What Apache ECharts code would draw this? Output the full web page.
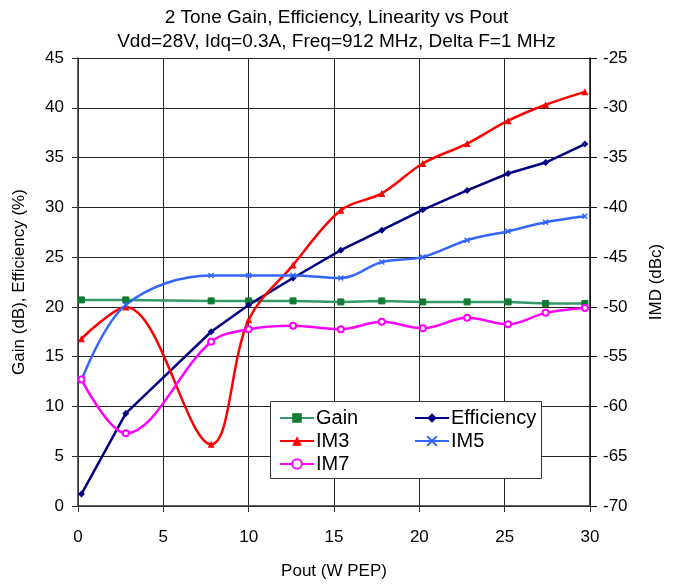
<!DOCTYPE html>
<html>
<head>
<meta charset="utf-8">
<script src="https://cdn.jsdelivr.net/npm/echarts@6/dist/echarts.min.js"></script>
<style>
  html, body { margin: 0; padding: 0; background: #fff; }
  #main { width: 673px; height: 585px; }
</style>
</head>
<body>
<div id="main"></div>
<script>
// Pout (W PEP)
let pout = [0.2, 2.8, 7.8, 10.0, 12.6, 15.4, 17.8, 20.2, 22.8, 25.2, 27.4, 29.7];
// left axis
let gain = [20.7, 20.7, 20.6, 20.6, 20.6, 20.5, 20.6, 20.5, 20.5, 20.5, 20.35, 20.35];
let efficiency = [1.2, 9.3, 17.5, 20.2, 22.9, 25.7, 27.7, 29.75, 31.7, 33.4, 34.5, 36.35];
// right axis (dBc)
let im3 = [-53.2, -50.0, -63.8, -51.3, -45.8, -40.3, -38.6, -35.6, -33.6, -31.3, -29.7, -28.4];
let im5 = [-57.4, -49.8, -46.85, -46.85, -46.85, -47.1, -45.5, -45.0, -43.3, -42.4, -41.5, -40.9];
let im7 = [-57.3, -62.7, -53.5, -52.25, -51.9, -52.25, -51.5, -52.15, -51.1, -51.75, -50.6, -50.1];

function pairs(ys) {
    return pout.map((x, i) => [x, ys[i]]);
}

let font = 'Liberation Sans, Arial, sans-serif';
let chart = echarts.init(document.getElementById('main'));

let option = {
    animation: false,
    backgroundColor: '#fff',
    textStyle: { fontFamily: font },
    title: {
        text: '2 Tone Gain, Efficiency, Linearity vs Pout\nVdd=28V, Idq=0.3A, Freq=912 MHz, Delta F=1 MHz',
        left: 'center',
        top: 1,
        textStyle: { fontFamily: font, fontSize: 19, fontWeight: 'normal', color: '#000', lineHeight: 24 }
    },
    grid: { left: 78, right: 83, top: 58, bottom: 75, containLabel: false },
    xAxis: {
        type: 'value',
        min: 0, max: 30, interval: 5,
        name: 'Pout (W PEP)',
        nameLocation: 'middle',
        nameGap: 57,
        nameTextStyle: { fontSize: 17, color: '#000' },
        axisLine: { show: true, lineStyle: { color: '#333', width: 1.5 } },
        axisTick: { show: true, length: 6, lineStyle: { color: '#333' } },
        axisLabel: { fontSize: 17, color: '#000', margin: 23 },
        splitLine: { show: true, lineStyle: { color: '#222', width: 1 } }
    },
    yAxis: [{
        type: 'value',
        min: 0, max: 45, interval: 5,
        position: 'left',
        name: 'Gain (dB), Efficiency (%)',
        nameLocation: 'middle',
        nameRotate: 90,
        nameGap: 50,
        nameTextStyle: { fontSize: 17, color: '#000' },
        axisLine: { show: true, lineStyle: { color: '#333', width: 1.5 } },
        axisTick: { show: true, length: 6, inside: false, lineStyle: { color: '#333' } },
        axisLabel: { fontSize: 17, color: '#000', margin: 14 },
        splitLine: { show: true, lineStyle: { color: '#222', width: 1 } }
    }, {
        type: 'value',
        min: -70, max: -25, interval: 5,
        position: 'right',
        name: 'IMD (dBc)',
        nameLocation: 'middle',
        nameRotate: 90,
        nameGap: 58,
        nameTextStyle: { fontSize: 17, color: '#000' },
        axisLine: { show: true, lineStyle: { color: '#111', width: 1.5 } },
        axisTick: { show: true, length: 7, lineStyle: { color: '#111' } },
        axisLabel: { fontSize: 17, color: '#000', margin: 13 },
        splitLine: { show: false }
    }],
    graphic: [{
        type: 'rect',
        z: 10,
        shape: { x: 270.5, y: 401.5, width: 271, height: 77 },
        style: { fill: '#fff', stroke: '#333', lineWidth: 1 }
    }],
    legend: [{
        data: ['Gain', 'IM3', 'IM7'],
        orient: 'vertical',
        left: 274, top: 403,
        z: 11,
        itemWidth: 34, itemHeight: 12, itemGap: 3,
        textStyle: { fontFamily: font, fontSize: 20, color: '#000', padding: [0, 0, 0, -3] }
    }, {
        data: ['Efficiency', 'IM5'],
        orient: 'vertical',
        left: 409, top: 403,
        z: 11,
        itemWidth: 34, itemHeight: 12, itemGap: 3,
        textStyle: { fontFamily: font, fontSize: 20, color: '#000', padding: [0, 0, 0, -3] }
    }],
    series: [{
        name: 'Gain',
        type: 'line',
        yAxisIndex: 0,
        data: pairs(gain),
        symbol: 'rect',
        symbolSize: 6,
        lineStyle: { color: '#339966', width: 2.5 },
        itemStyle: { color: '#117a33', borderColor: '#117a33' }
    }, {
        name: 'Efficiency',
        type: 'line',
        yAxisIndex: 0,
        data: pairs(efficiency),
        symbol: 'diamond',
        symbolSize: 7,
        lineStyle: { color: '#000080', width: 2.5 },
        itemStyle: { color: '#000080' }
    }, {
        name: 'IM3',
        type: 'line',
        yAxisIndex: 1,
        data: pairs(im3),
        smooth: 0.35,
        symbol: 'triangle',
        symbolSize: 7,
        lineStyle: { color: '#ff0000', width: 2.5 },
        itemStyle: { color: '#ff0000' }
    }, {
        name: 'IM5',
        type: 'line',
        yAxisIndex: 1,
        data: pairs(im5),
        smooth: 0.35,
        symbol: 'path://M0,0L10,10M10,0L0,10',
        symbolSize: 5,
        lineStyle: { color: '#3366ff', width: 2.5 },
        itemStyle: { color: 'none', borderColor: '#3366ff', borderWidth: 1.5 }
    }, {
        name: 'IM7',
        type: 'line',
        yAxisIndex: 1,
        data: pairs(im7),
        smooth: 0.35,
        symbol: 'emptyCircle',
        symbolSize: 6,
        lineStyle: { color: '#ff00ff', width: 2.5 },
        itemStyle: { color: '#ff00ff', borderColor: '#ff00ff', borderWidth: 1.5 }
    }]
};
chart.setOption(option);
</script>
</body>
</html>
